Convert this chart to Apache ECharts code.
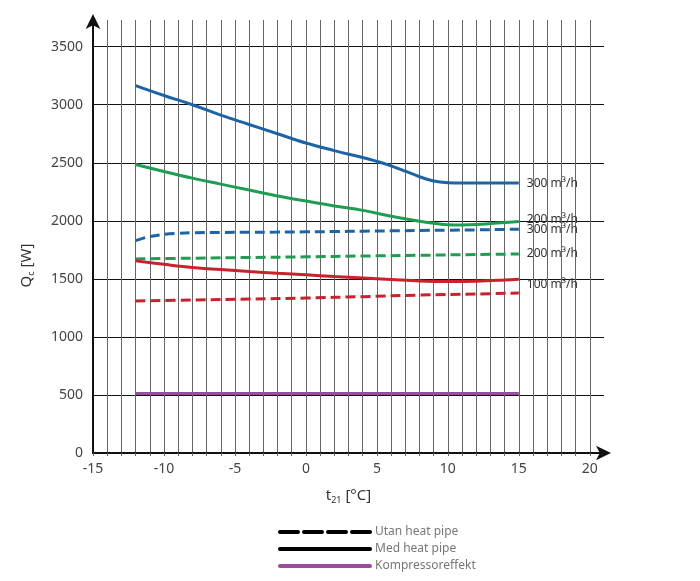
<!DOCTYPE html>
<html>
<head>
<meta charset="utf-8">
<script src="https://cdn.jsdelivr.net/npm/echarts@6/dist/echarts.min.js"></script>
<style>
  html, body { margin: 0; padding: 0; background: #fff; }
  #chart { width: 700px; height: 581px; }
</style>
</head>
<body>
<div id="chart"></div>
<script>
// kurvdata (t21 i °C, Qc i W)
var tMed300 = [-12, -10, -8, -6, -4, -2, 0, 2, 4, 5, 6, 7, 8, 9, 10, 11, 13, 15];
var qMed300 = [3165, 3080, 3000, 2910, 2830, 2750, 2670, 2605, 2545, 2512, 2474, 2428, 2380, 2343, 2328, 2325, 2325, 2325];

var tMed200 = [-12, -10, -8, -6, -4, -2, 0, 2, 4, 6, 8, 9, 10, 11, 12, 13, 14, 15];
var qMed200 = [2485, 2425, 2368, 2316, 2265, 2214, 2170, 2128, 2090, 2040, 1997, 1980, 1967, 1965, 1968, 1976, 1985, 1995];

var tMed100 = [-12, -10, -8, -6, -4, -2, 0, 2, 4, 6, 8, 10, 12, 14, 15];
var qMed100 = [1655, 1625, 1598, 1580, 1563, 1548, 1535, 1520, 1508, 1495, 1482, 1477, 1480, 1490, 1497];

var tUtan300 = [-12, -11, -10, -9, -8, -6, -4, -2, 0, 2, 4, 6, 8, 10, 12, 14, 15];
var qUtan300 = [1830, 1865, 1883, 1892, 1897, 1900, 1902, 1903, 1905, 1908, 1911, 1914, 1917, 1919, 1922, 1926, 1928];

var tUtan200 = [-12, -8, -4, 0, 4, 8, 12, 15];
var qUtan200 = [1672, 1678, 1684, 1690, 1697, 1703, 1710, 1714];

var tUtan100 = [-12, -8, -4, 0, 4, 8, 12, 15];
var qUtan100 = [1310, 1318, 1326, 1335, 1347, 1360, 1370, 1378];

var tKomp = [-12, 15];
var qKomp = [512, 512];

var legendNames = ['Utan heat pipe', 'Med heat pipe', 'Kompressoreffekt'];
var flowLabels = ['100 m³/h', '200 m³/h', '300 m³/h'];

var BLUE = '#1c64a8', GREEN = '#1f9e52', RED = '#c8232c', PURPLE = '#9b4c9f';
var FONT = 'Noto Sans';

function pairs(t, q) {
  var out = [];
  for (var i = 0; i < t.length; i++) out.push([t[i], q[i]]);
  return out;
}

function curve(t, q, color, dashed, label, labelOffset) {
  var s = {
    type: 'line',
    data: pairs(t, q),
    smooth: 0.4,
    symbol: 'none',
    silent: true,
    z: 3,
    lineStyle: { color: color, width: 3, type: dashed ? [10, 5] : 'solid' }
  };
  if (label) {
    s.endLabel = {
      show: true,
      formatter: label,
      color: '#333',
      fontFamily: FONT,
      fontSize: 12,
      distance: 8,
      offset: labelOffset || [0, 0]
    };
  }
  return s;
}

// bara linjen i förklaringen, ingen symbol
var noSymbol = { opacity: 0 };

var option = {
  animation: false,
  backgroundColor: '#fff',
  grid: { left: 93, right: 96, top: 20, bottom: 128, containLabel: false },
  legend: {
    orient: 'vertical',
    left: 278,
    top: 526,
    padding: 0,
    itemWidth: 90,
    itemHeight: 12,
    itemGap: 5,
    selectedMode: false,
    textStyle: { color: '#777', fontFamily: FONT, fontSize: 12 },
    data: [
      { name: legendNames[0], itemStyle: noSymbol, lineStyle: { width: 4, type: [18, 6], cap: 'round' } },
      { name: legendNames[1], itemStyle: noSymbol, lineStyle: { width: 4, cap: 'round' } },
      { name: legendNames[2], itemStyle: noSymbol, lineStyle: { width: 4, cap: 'round' } }
    ]
  },
  xAxis: {
    type: 'value',
    min: -15,
    max: 21,
    interval: 1,
    name: 't{s|21} [°C]',
    nameLocation: 'middle',
    nameGap: 33,
    nameTextStyle: {
      color: '#333', fontFamily: FONT, fontSize: 15,
      rich: { s: { fontSize: 9, fontFamily: FONT, color: '#333', padding: [10, 0, 0, 0] } }
    },
    axisLine: {
      show: true,
      onZero: false,
      symbol: ['none', 'arrow'],
      symbolSize: [11, 15],
      symbolOffset: [0, 7],
      lineStyle: { color: '#111', width: 2 }
    },
    axisTick: { show: true, length: 3, lineStyle: { color: '#666' } },
    axisLabel: {
      color: '#444', fontFamily: FONT, fontSize: 14, margin: 9,
      formatter: function (v) { return (v % 5 === 0 && v <= 20) ? String(v) : ''; }
    },
    splitLine: {
      show: true,
      showMaxLine: false,
      lineStyle: { color: '#666', width: 1 }
    }
  },
  yAxis: {
    type: 'value',
    min: 0,
    max: 3730,
    interval: 500,
    name: 'Q{s|c} [W]',
    nameLocation: 'middle',
    nameRotate: 90,
    nameGap: 57,
    nameTextStyle: {
      color: '#333', fontFamily: FONT, fontSize: 15,
      padding: [0, 58, 0, 0],
      rich: { s: { fontSize: 9, fontFamily: FONT, color: '#333', padding: [10, 0, 0, 0] } }
    },
    axisLine: {
      show: true,
      onZero: false,
      symbol: ['none', 'arrow'],
      symbolSize: [11, 15],
      symbolOffset: [0, 6],
      lineStyle: { color: '#111', width: 2 }
    },
    axisTick: { show: false },
    axisLabel: {
      color: '#444', fontFamily: FONT, fontSize: 14, margin: 10,
      showMaxLabel: false,
      formatter: function (v) { return v % 500 === 0 ? String(v) : ''; }
    },
    splitLine: {
      show: true,
      showMaxLine: false,
      lineStyle: { color: '#111', width: 1.2 }
    }
  },
  series: [
    { name: legendNames[0], type: 'line', data: [], symbol: 'none', color: '#000',
      lineStyle: { color: '#000', width: 4, type: [18, 6] } },
    { name: legendNames[1], type: 'line', data: [], symbol: 'none', color: '#000',
      lineStyle: { color: '#000', width: 4 } },
    Object.assign(curve(tKomp, qKomp, PURPLE, false, null), { name: legendNames[2], color: PURPLE }),
    curve(tUtan100, qUtan100, RED, true, null),
    curve(tUtan200, qUtan200, GREEN, true, flowLabels[1]),
    curve(tUtan300, qUtan300, BLUE, true, flowLabels[2]),
    curve(tMed100, qMed100, RED, false, flowLabels[0], [0, 5]),
    curve(tMed200, qMed200, GREEN, false, flowLabels[1], [0, -2]),
    curve(tMed300, qMed300, BLUE, false, flowLabels[2])
  ]
};

var chart = echarts.init(document.getElementById('chart'), null, { renderer: 'canvas' });
chart.setOption(option);
</script>
</body>
</html>
